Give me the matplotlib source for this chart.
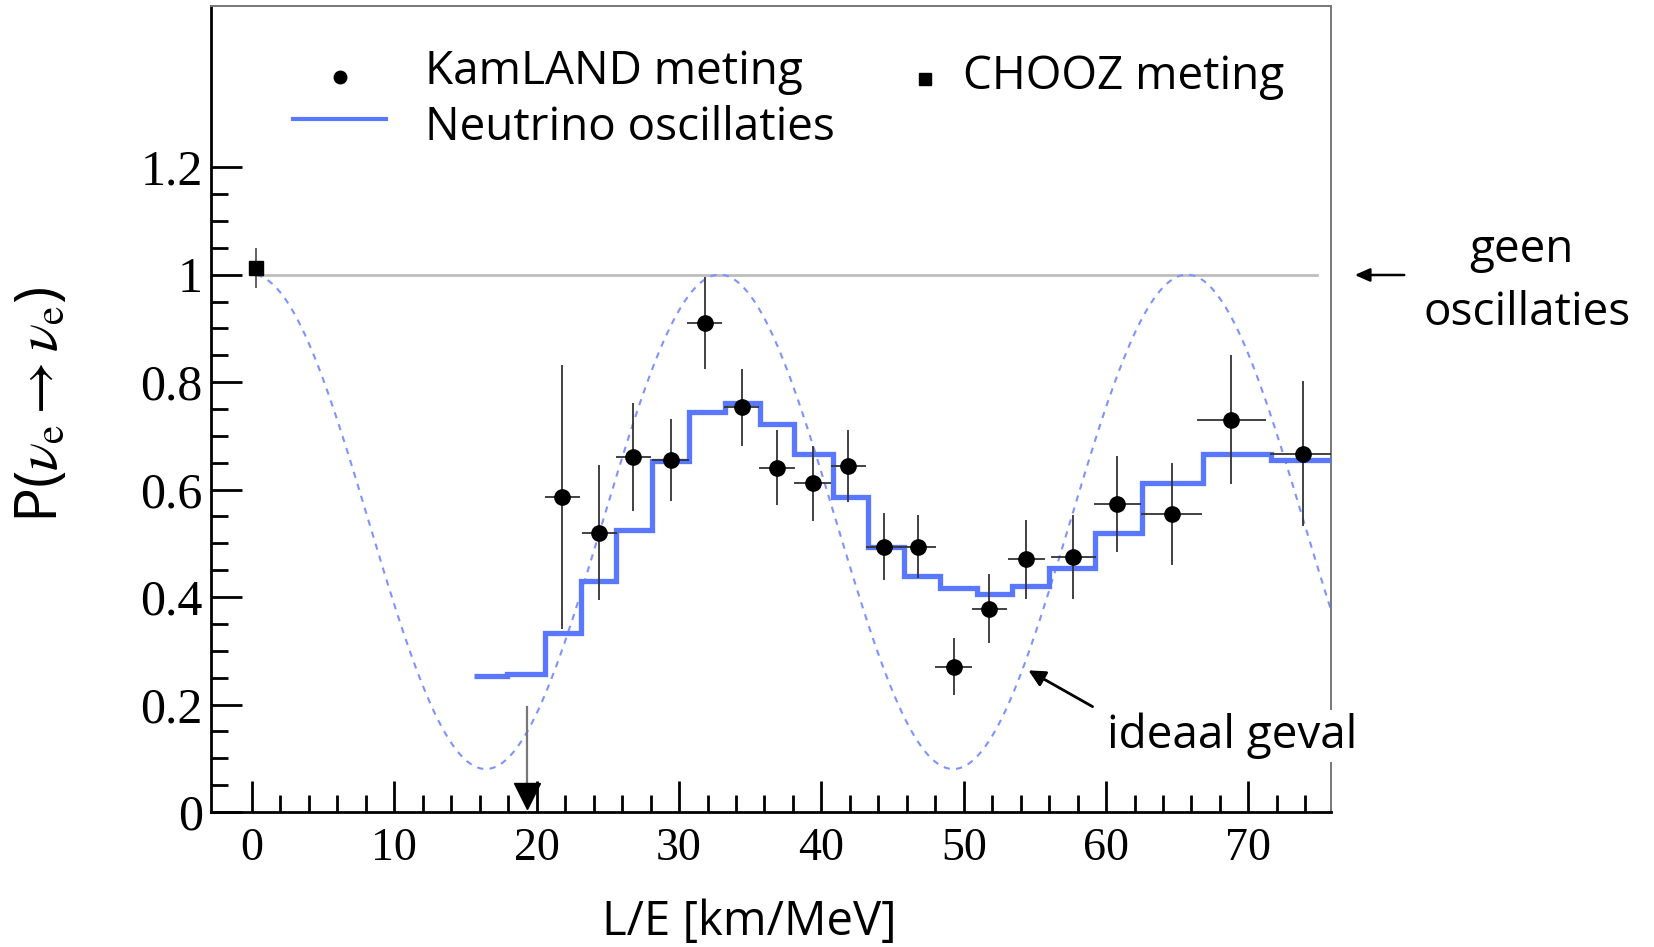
import numpy as np
import matplotlib.pyplot as plt
from matplotlib.lines import Line2D
from matplotlib.patches import FancyArrowPatch

# KamLAND points (L/E in km/MeV)
kam_x = [21.8, 24.4, 26.8, 29.4, 31.8, 34.4, 36.9, 39.4, 41.9, 44.4, 46.8,
         49.3, 51.8, 54.4, 57.7, 60.8, 64.6, 68.8, 73.8]
kam_y = [0.586, 0.520, 0.661, 0.655, 0.910, 0.753, 0.641, 0.612, 0.643, 0.494,
         0.494, 0.270, 0.378, 0.470, 0.475, 0.573, 0.555, 0.730, 0.667]
kam_yerr = [0.245, 0.125, 0.100, 0.077, 0.085, 0.072, 0.070, 0.070, 0.067, 0.062,
            0.058, 0.053, 0.064, 0.073, 0.078, 0.090, 0.095, 0.120, 0.135]
kam_xerr = [1.25, 1.25, 1.25, 1.30, 1.25, 1.25, 1.25, 1.30, 1.25, 1.25, 1.25,
            1.30, 1.25, 1.30, 1.60, 1.65, 2.15, 2.40, 2.30]

# upper-limit bin
ul_x = 19.3
ul_top = 0.195

# CHOOZ point
chooz_x = 0.3
chooz_y = 1.012
chooz_yerr = 0.037

# best-fit oscillation (step histogram)
fit_edges = [15.6, 17.9, 20.6, 23.1, 25.6, 28.1, 30.7, 33.2, 35.7, 38.1, 40.8,
             43.3, 45.8, 48.3, 50.9, 53.4, 56.0, 59.2, 62.5, 66.8, 71.6, 76.2]
fit_vals = [0.253, 0.257, 0.333, 0.429, 0.525, 0.653, 0.745, 0.761, 0.722, 0.667,
            0.586, 0.494, 0.439, 0.416, 0.406, 0.420, 0.455, 0.520, 0.612, 0.667,
            0.655]

# ideal two-flavour case
DM2 = 7.55e-5        # eV^2
SIN2_2THETA = 0.92

W, H = 1654, 947
fig = plt.figure(figsize=(W / 100, H / 100), dpi=100)
ax = fig.add_axes([211 / W, 1 - 812 / H, (1331 - 211) / W, (812 - 6) / H])

SANS = "Open Sans"
SERIF = "Liberation Serif"
FS = 33
plt.rcParams["mathtext.fontset"] = "stix"

blue = "#5a78ff"
lblue = "#7f93ff"

# ideal curve
le = np.linspace(chooz_x, 76.0, 600)
p_ideal = 1 - SIN2_2THETA * np.sin(1.267e3 * DM2 * le) ** 2
ax.plot(le, p_ideal, color=lblue, lw=1.5, ls=(0, (3, 3)), zorder=2)

# no-oscillation line
ax.plot([chooz_x, 74.8], [1, 1], color="#bdbdbd", lw=2.0, zorder=1)

# best fit
ax.stairs(fit_vals, fit_edges, color=blue, lw=3.8, baseline=None, zorder=3)

# data
ax.errorbar(kam_x, kam_y, yerr=kam_yerr, xerr=kam_xerr, fmt="o", color="black",
            ms=11, ecolor="#333333", elinewidth=1.3, capsize=0, zorder=5)
ax.plot([ul_x, ul_x], [ul_top, 0.03], color="#777777", lw=1.6, zorder=4)
ax.plot(ul_x, 0.03, marker="v", color="black", ms=19, zorder=5)
ax.errorbar([chooz_x], [chooz_y], yerr=[chooz_yerr], fmt="s", color="black",
            ms=10, ecolor="#555555", elinewidth=1.3, capsize=0, zorder=5)

ax.set_xlim(-2.88, 75.8)
ax.set_ylim(0, 1.5)
ax.set_xticks(np.arange(0, 71, 10))
ax.set_xticks(np.arange(0, 76, 2), minor=True)
ax.set_yticks([0, 0.2, 0.4, 0.6, 0.8, 1.0, 1.2])
ax.set_yticks(np.arange(0, 1.21, 0.05), minor=True)
ax.set_yticklabels(["0", "0.2", "0.4", "0.6", "0.8", "1", "1.2"])
ax.tick_params(which="both", direction="in", width=2, colors="black",
               top=False, right=False)
ax.tick_params(which="major", length=22)
ax.tick_params(which="minor", length=12)
ax.tick_params(axis="x", pad=11, labelsize=33)
ax.tick_params(axis="y", pad=6, labelsize=36)
for lab in ax.get_xticklabels() + ax.get_yticklabels():
    lab.set_family(SERIF)

for s in ("left", "bottom"):
    ax.spines[s].set_linewidth(2.0)
    ax.spines[s].set_color("black")
for s in ("top", "right"):
    ax.spines[s].set_linewidth(1.4)
    ax.spines[s].set_color("#777777")


def fx(px):
    return px / W


def fy(py):
    return 1 - py / H


# legend
fig.add_artist(Line2D([fx(340)], [fy(77)], marker="o", color="black", ms=9,
                      transform=fig.transFigure))
fig.add_artist(Line2D([fx(293), fx(386)], [fy(119), fy(119)], color=blue, lw=3,
                      transform=fig.transFigure))
fig.add_artist(Line2D([fx(925)], [fy(79)], marker="s", color="black", ms=8,
                      transform=fig.transFigure))
fig.text(fx(425), fy(72), "KamLAND meting", family=SANS, fontsize=FS,
         va="center", ha="left")
fig.text(fx(425), fy(128), "Neutrino oscillaties", family=SANS, fontsize=FS,
         va="center", ha="left")
fig.text(fx(963), fy(77), "CHOOZ meting", family=SANS, fontsize=FS,
         va="center", ha="left")

# axis labels
fig.text(fx(749), fy(922), "L/E [km/MeV]", family=SANS, fontsize=FS + 1,
         ha="center", va="center")
fig.text(fx(42), fy(405), r"P($\nu_{\mathrm{e}} \rightarrow \nu_{\mathrm{e}}$)",
         family=SANS, fontsize=42, rotation=90, ha="center", va="center")

# annotations
fig.text(fx(1521), fy(250), "geen", family=SANS, fontsize=FS,
         ha="center", va="center")
fig.text(fx(1527), fy(313), "oscillaties", family=SANS, fontsize=FS,
         ha="center", va="center")
fig.add_artist(FancyArrowPatch(
    (fx(1407), fy(275)), (fx(1352), fy(275)), transform=fig.transFigure,
    arrowstyle="-|>,head_length=9,head_width=4", color="black", lw=1.8))
fig.text(fx(1107), fy(736), "ideaal geval", family=SANS, fontsize=FS,
         ha="left", va="center", zorder=10,
         bbox=dict(fc="white", ec="none", pad=2))
fig.add_artist(FancyArrowPatch(
    (fx(1095), fy(708)), (fx(1026), fy(669)), transform=fig.transFigure,
    arrowstyle="-|>,head_length=10,head_width=5", color="black", lw=2))

fig.savefig("out.png", dpi=100)
